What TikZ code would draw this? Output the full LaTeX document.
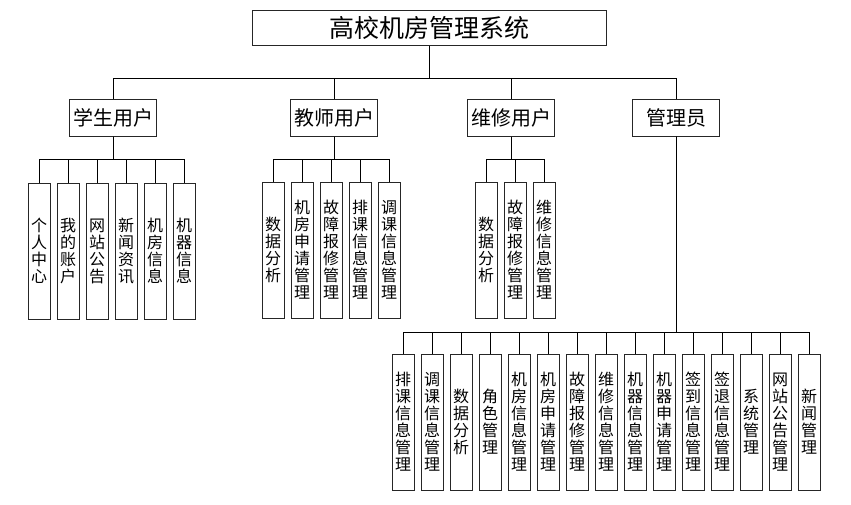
\documentclass[tikz,border=0pt]{standalone}
\usepackage{fontspec}
\setmainfont{Noto Sans CJK SC}
\usetikzlibrary{positioning}

\begin{document}
\begin{tikzpicture}[x=1pt,y=-1pt,node distance=29pt,line width=0.8pt,
  top node/.style={draw=black!85,line width=1pt,minimum width=354pt,minimum height=35pt,inner sep=0pt,font=\fontsize{25}{28}\selectfont},
  role node/.style={draw=black!85,line width=1pt,minimum width=87pt,minimum height=37pt,inner sep=0pt,font=\fontsize{20}{22}\selectfont},
  leaf node/.style={draw=black!85,line width=1pt,minimum width=22pt,minimum height=136pt,inner sep=0pt,align=center,font=\fontsize{16}{17}\selectfont}]
  \useasboundingbox (0,0) rectangle (851,504);

  \node[top node] (root) at (429,27.5) {高校机房管理系统};
  \node[role node] (stu) at (113,117.5) {学生用户};
  \node[role node] (tea) at (334,117.5) {教师用户};
  \node[role node] (rep) at (511,117.5) {维修用户};
  \node[role node] (adm) at (676,117.5) {管理员};

  % student
  \node[leaf node] (s1) at (39,251) {个\\人\\中\\心};
  \node[leaf node] (s2) [right of=s1] {我\\的\\账\\户};
  \node[leaf node] (s3) [right of=s2] {网\\站\\公\\告};
  \node[leaf node] (s4) [right of=s3] {新\\闻\\资\\讯};
  \node[leaf node] (s5) [right of=s4] {机\\房\\信\\息};
  \node[leaf node] (s6) [right of=s5] {机\\器\\信\\息};

  % teacher
  \node[leaf node] (t1) at (273,250) {数\\据\\分\\析};
  \node[leaf node] (t2) [right of=t1] {机\\房\\申\\请\\管\\理};
  \node[leaf node] (t3) [right of=t2] {故\\障\\报\\修\\管\\理};
  \node[leaf node] (t4) [right of=t3] {排\\课\\信\\息\\管\\理};
  \node[leaf node] (t5) [right of=t4] {调\\课\\信\\息\\管\\理};

  % repair
  \node[leaf node] (r1) at (486,250) {数\\据\\分\\析};
  \node[leaf node] (r2) [right of=r1] {故\\障\\报\\修\\管\\理};
  \node[leaf node] (r3) [right of=r2] {维\\修\\信\\息\\管\\理};

  % admin
  \begin{scope}[every node/.append style={minimum height=138pt}]
  \node[leaf node] (a1) at (403,422) {排\\课\\信\\息\\管\\理};
  \node[leaf node] (a2) [right of=a1] {调\\课\\信\\息\\管\\理};
  \node[leaf node] (a3) [right of=a2] {数\\据\\分\\析};
  \node[leaf node] (a4) [right of=a3] {角\\色\\管\\理};
  \node[leaf node] (a5) [right of=a4] {机\\房\\信\\息\\管\\理};
  \node[leaf node] (a6) [right of=a5] {机\\房\\申\\请\\管\\理};
  \node[leaf node] (a7) [right of=a6] {故\\障\\报\\修\\管\\理};
  \node[leaf node] (a8) [right of=a7] {维\\修\\信\\息\\管\\理};
  \node[leaf node] (a9) [right of=a8] {机\\器\\信\\息\\管\\理};
  \node[leaf node] (a10) [right of=a9] {机\\器\\申\\请\\管\\理};
  \node[leaf node] (a11) [right of=a10] {签\\到\\信\\息\\管\\理};
  \node[leaf node] (a12) [right of=a11] {签\\退\\信\\息\\管\\理};
  \node[leaf node] (a13) [right of=a12] {系\\统\\管\\理};
  \node[leaf node] (a14) [right of=a13] {网\\站\\公\\告\\管\\理};
  \node[leaf node] (a15) [right of=a14] {新\\闻\\管\\理};
  \end{scope}

  \path (root.south) ++(0,33) coordinate (bus);
  \draw (root.south) -- (bus);
  \draw (stu.north) |- (bus) -| (adm.north);
  \draw (tea.north) -- (tea.north |- bus);
  \draw (rep.north) -- (rep.north |- bus);
  \foreach \n in {s1,s2,s3,s4,s5,s6}
    \draw (stu.south) -- ++(0,23) -| (\n.north);
  \foreach \n in {t1,t2,t3,t4,t5}
    \draw (tea.south) -- ++(0,23) -| (\n.north);
  \foreach \n in {r1,r2,r3}
    \draw (rep.south) -- ++(0,23) -| (\n.north);
  \foreach \n in {a1,a2,a3,a4,a5,a6,a7,a8,a9,a10,a11,a12,a13,a14,a15}
    \draw (adm.south) -- ++(0,196) -| (\n.north);
\end{tikzpicture}
\end{document}
